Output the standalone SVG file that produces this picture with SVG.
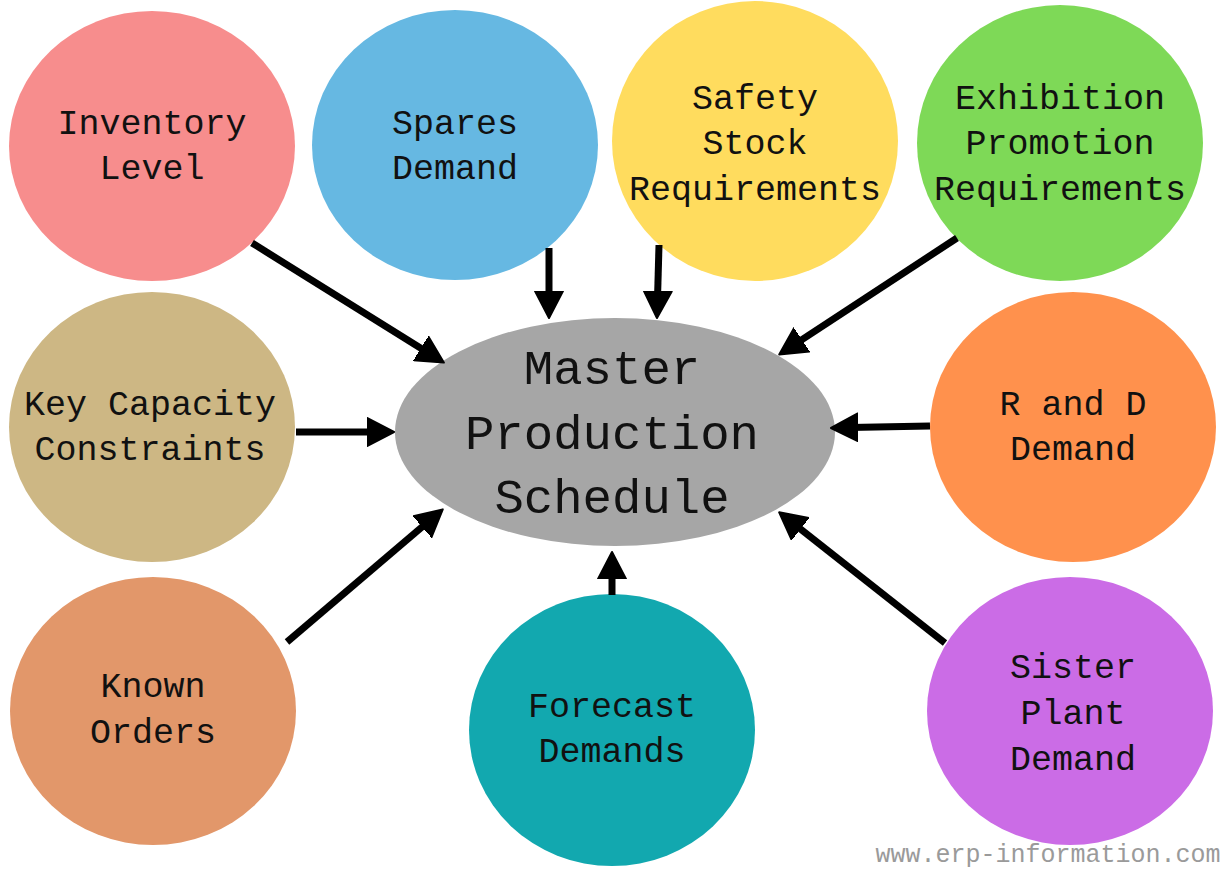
<svg xmlns="http://www.w3.org/2000/svg" width="1225" height="869" viewBox="0 0 1225 869">
<style>
.t{font-family:"Liberation Mono","DejaVu Sans Mono",monospace;font-size:35px;fill:#111;text-anchor:middle}
.m{font-family:"Liberation Mono","DejaVu Sans Mono",monospace;font-size:49px;fill:#111;text-anchor:middle}
.w{font-family:"Liberation Mono","DejaVu Sans Mono",monospace;font-size:25px;fill:#9a9a9a;text-anchor:middle}
.c line{stroke:#000;stroke-width:7;marker-end:url(#ah)}
</style>
<defs>
<marker id="ah" markerUnits="userSpaceOnUse" markerWidth="30" markerHeight="30" viewBox="0 0 30 30" refX="8" refY="15" orient="auto">
<path d="M0,1 L27,15 L0,29 z" fill="#000" stroke="#000" stroke-width="2" stroke-linejoin="round"/>
</marker>
</defs>
<rect width="1225" height="869" fill="#fff"/>
<g id="inventory"><ellipse cx="152" cy="146" rx="143" ry="135" fill="#F78D8D"/><text class="t" x="152" y="134">Inventory</text><text class="t" x="152" y="179">Level</text></g>
<g id="spares"><ellipse cx="455" cy="145" rx="143" ry="135" fill="#66B8E2"/><text class="t" x="455" y="134">Spares</text><text class="t" x="455" y="179">Demand</text></g>
<g id="safety"><ellipse cx="755" cy="141" rx="143" ry="140" fill="#FFDC5E"/><text class="t" x="755" y="109">Safety</text><text class="t" x="755" y="154">Stock</text><text class="t" x="755" y="200">Requirements</text></g>
<g id="exhibition"><ellipse cx="1060" cy="143" rx="143" ry="138" fill="#7ED957"/><text class="t" x="1060" y="109">Exhibition</text><text class="t" x="1060" y="154">Promotion</text><text class="t" x="1060" y="200">Requirements</text></g>
<g id="keycap"><ellipse cx="152" cy="427" rx="143" ry="135" fill="#CDB784"/><text class="t" x="150" y="415">Key Capacity</text><text class="t" x="150" y="460">Constraints</text></g>
<g id="rnd"><ellipse cx="1073" cy="427" rx="143" ry="135" fill="#FF914D"/><text class="t" x="1073" y="415">R and D</text><text class="t" x="1073" y="460">Demand</text></g>
<g id="known"><ellipse cx="153" cy="711" rx="143" ry="134" fill="#E2976A"/><text class="t" x="153" y="697">Known</text><text class="t" x="153" y="743">Orders</text></g>
<g id="forecast"><ellipse cx="612" cy="730" rx="143" ry="136" fill="#12A8AF"/><text class="t" x="612" y="717">Forecast</text><text class="t" x="612" y="762">Demands</text></g>
<g id="sister"><ellipse cx="1070" cy="711" rx="143" ry="134" fill="#CB6CE6"/><text class="t" x="1073" y="678">Sister</text><text class="t" x="1073" y="724">Plant</text><text class="t" x="1073" y="770">Demand</text></g>
<g id="master"><ellipse cx="615" cy="432" rx="220" ry="114" fill="#A6A6A6"/><text class="m" x="612" y="384">Master</text><text class="m" x="612" y="449">Production</text><text class="m" x="612" y="513">Schedule</text></g>
<g id="connectors" class="c">
<line x1="252" y1="243" x2="427.7" y2="352.5"/>
<line x1="549" y1="248" x2="549" y2="299"/>
<line x1="659" y1="245" x2="657.5" y2="299"/>
<line x1="957" y1="238" x2="795.1" y2="344.1"/>
<line x1="296" y1="432" x2="375" y2="432"/>
<line x1="930" y1="426" x2="850" y2="427.6"/>
<line x1="287" y1="642" x2="428.3" y2="521.7"/>
<line x1="612" y1="595" x2="612" y2="571"/>
<line x1="945" y1="643" x2="794.1" y2="524.1"/>
</g>
<text class="w" x="1048" y="862">www.erp-information.com</text>
</svg>
